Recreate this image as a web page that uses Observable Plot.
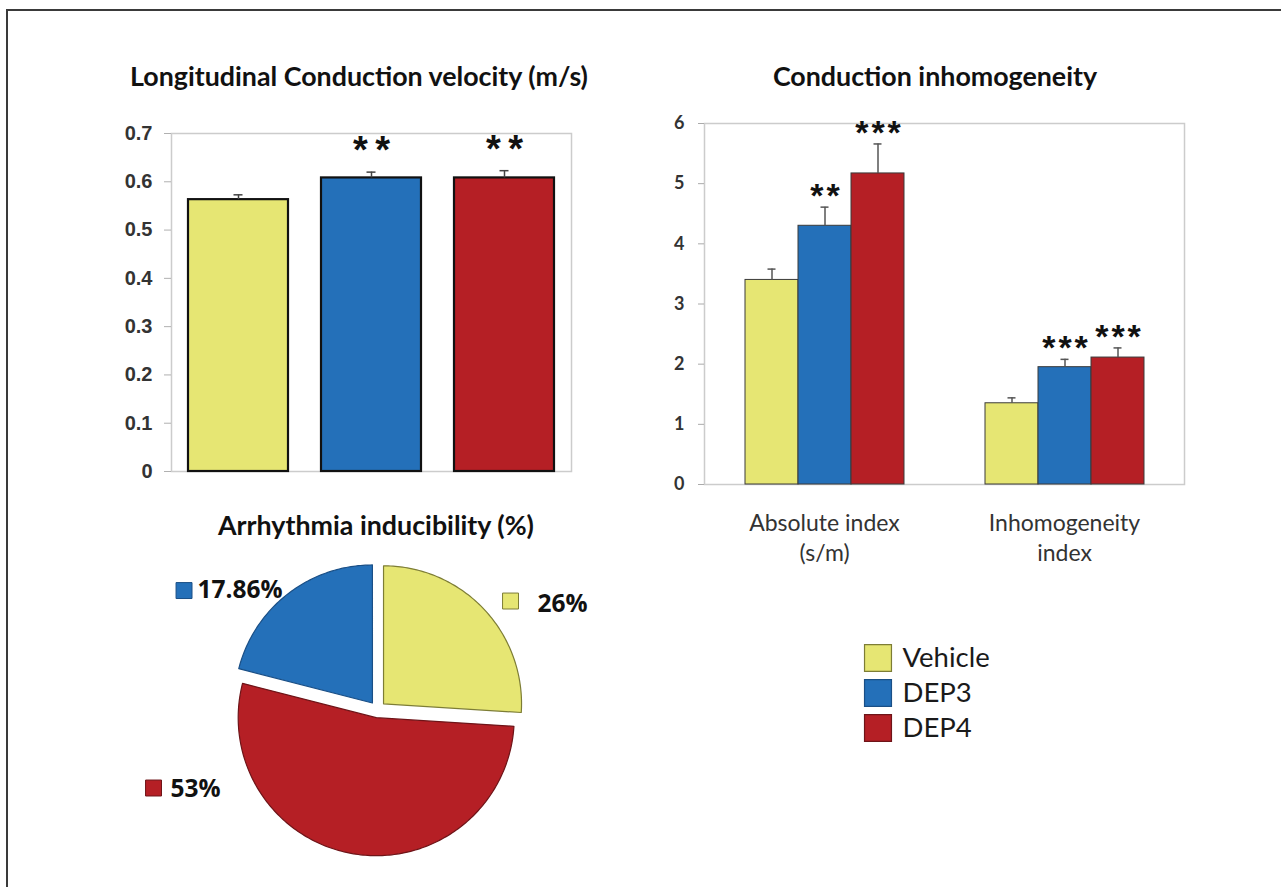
<!DOCTYPE html>
<html>
<head>
<meta charset="utf-8">
<script src="https://cdn.jsdelivr.net/npm/d3@7"></script>
<script src="https://cdn.jsdelivr.net/npm/@observablehq/plot@0.6"></script>
<style>
  html, body { margin: 0; padding: 0; background: #fff; }
  body { width: 1281px; height: 887px; overflow: hidden; position: relative; font-family: Lato, sans-serif; }
  #border { position: absolute; left: 6px; top: 9px; width: 1400px; height: 1000px; border-left: 2px solid #3a3a3a; border-top: 2px solid #3a3a3a; box-sizing: border-box; }
  .title { position: absolute; font-family: Lato, sans-serif; font-weight: 700; font-size: 26.8px; color: #111; white-space: nowrap; transform: translate(-50%, -50%); }
  .panel { position: absolute; }
  .panel svg { display: block; }
</style>
</head>
<body>
<div id="border"></div>
<div class="title" style="left:359px; top:76px;">Longitudinal Conduction velocity (m/s)</div>
<div class="title" style="left:935px; top:76px;">Conduction inhomogeneity</div>
<div class="title" style="left:376px; top:525px;">Arrhythmia inducibility (%)</div>
<div class="panel" id="cv" style="left:100px; top:110px;"></div>
<div class="panel" id="ci" style="left:620px; top:100px;"></div>
<div class="panel" id="pie" style="left:130px; top:540px;"></div>
<div class="panel" id="legend" style="left:850px; top:630px;"></div>
<script>
// ---------- data ----------
const series = ["Vehicle", "DEP3", "DEP4"];
const fillColors = ["#e6e673", "#2470b9", "#b51f25"];
const edgeColors = ["#7d7d35", "#1a4f86", "#6e1418"];

// Longitudinal conduction velocity (m/s)
const cvValues = [0.563, 0.608, 0.608];
const cvErrors = [0.010, 0.012, 0.015];
const cvStars = ["", "**", "**"];
const cvTicks = [0, 0.1, 0.2, 0.3, 0.4, 0.5, 0.6, 0.7];

// Conduction inhomogeneity
const ciGroups = ["Absolute index\n(s/m)", "Inhomogeneity\nindex"];
const ciVehicle = [3.40, 1.35];
const ciDEP3 = [4.30, 1.95];
const ciDEP4 = [5.17, 2.11];
const ciVehicleErr = [0.18, 0.09];
const ciDEP3Err = [0.31, 0.13];
const ciDEP4Err = [0.49, 0.16];
const ciVehicleStars = ["", ""];
const ciDEP3Stars = ["**", "***"];
const ciDEP4Stars = ["***", "***"];
const ciTicks = [0, 1, 2, 3, 4, 5, 6];

// Arrhythmia inducibility (%) — slices clockwise from 12 o'clock
const pieSeries = ["Vehicle", "DEP4", "DEP3"];
const pieValues = [26, 53, 21];
const pieLabels = ["26%", "53%", "17.86%"];

// ---------- helpers (layout, not data) ----------
const colorOf = s => fillColors[series.indexOf(s)];
const edgeOf = s => edgeColors[series.indexOf(s)];
const spaced = (t, sp) => t.split("").join(sp);

// ---------- chart 1: conduction velocity ----------
const cvData = series.map((s, i) => ({series: s, value: cvValues[i], err: cvErrors[i], stars: cvStars[i], color: fillColors[i]}));

const cvPlot = Plot.plot({
  width: 500, height: 380,
  marginLeft: 71, marginRight: 29, marginTop: 23, marginBottom: 19,
  style: {background: "transparent", overflow: "visible", fontFamily: "Lato"},
  x: {domain: series, paddingInner: 0.25, paddingOuter: 0.125, axis: null},
  y: {domain: [0, 0.7]},
  color: {type: "identity"},
  marks: [
    Plot.frame({stroke: "#cccccc", strokeWidth: 1.5}),
    Plot.axisY(cvTicks, {tickSize: 7, tickPadding: 12, stroke: "#b0b0b0", fill: "#333", fontSize: 20, fontWeight: "bold", fontFamily: "Liberation Sans", label: null, tickFormat: d => d === 0 ? "0" : d.toFixed(1)}),
    Plot.barY(cvData, {x: "series", y: "value", fill: "color", stroke: "#111", strokeWidth: 2.2}),
    Plot.ruleX(cvData, {x: "series", y1: "value", y2: d => d.value + d.err, stroke: "#444", strokeWidth: 1.5}),
    Plot.tickY(cvData, {x: "series", y: d => d.value + d.err, insetLeft: 45.5, insetRight: 45.5, stroke: "#444", strokeWidth: 1.5}),
    Plot.text(cvData.filter(d => d.stars), {x: "series", y: d => d.value + d.err, text: d => spaced(d.stars, "\u2009"), dy: -21, fontSize: 38, fontWeight: "bold", fontFamily: "Liberation Sans", fill: "#111"})
  ]
});
document.getElementById("cv").appendChild(cvPlot);

// ---------- chart 2: conduction inhomogeneity ----------
const ciCols = [[ciVehicle, ciVehicleErr, ciVehicleStars], [ciDEP3, ciDEP3Err, ciDEP3Stars], [ciDEP4, ciDEP4Err, ciDEP4Stars]];
const ciData = ciGroups.flatMap((g, gi) => series.map((s, si) => ({
  group: g, series: s, value: ciCols[si][0][gi], err: ciCols[si][1][gi], stars: ciCols[si][2][gi], color: fillColors[si]
})));

function ciMarks(superFrame) {
  const frameMarks = superFrame
    ? [Plot.frame({facet: "super", stroke: "#cccccc", strokeWidth: 1.5})]
    : [Plot.ruleY([0, 6], {stroke: "#cccccc", strokeWidth: 1.5})];
  return [
    ...frameMarks,
    Plot.axisY(ciTicks, {tickSize: 6, tickPadding: 14, stroke: "#aaaaaa", fill: "#333", fontSize: 18, fontWeight: "bold", fontFamily: "Lato", label: null, tickFormat: d => String(d)}),
    Plot.axisFx({anchor: "bottom", tickSize: 0, tickPadding: 25, fontSize: 23, lineHeight: 1.3, fontFamily: "Lato", fill: "#333", label: null}),
    Plot.barY(ciData, {fx: "group", x: "series", y: "value", fill: "color", stroke: "#3a3a3a", strokeWidth: 1}),
    Plot.ruleX(ciData, {fx: "group", x: "series", y1: "value", y2: d => d.value + d.err, stroke: "#555", strokeWidth: 1.5}),
    Plot.tickY(ciData, {fx: "group", x: "series", y: d => d.value + d.err, insetLeft: 22.5, insetRight: 22.5, stroke: "#555", strokeWidth: 1.5}),
    Plot.text(ciData.filter(d => d.stars), {fx: "group", x: "series", y: d => d.value + d.err, text: d => spaced(d.stars, "\u200A"), dy: -11, fontSize: 34, fontWeight: "bold", fontFamily: "Liberation Sans", fill: "#111"})
  ];
}
function ciPlot(superFrame) {
  return Plot.plot({
    width: 600, height: 480,
    marginLeft: 83, marginRight: 36, marginTop: 23, marginBottom: 96,
    style: {background: "transparent", overflow: "visible", fontFamily: "Lato"},
    fx: {domain: ciGroups, padding: 0, label: null},
    x: {domain: series, paddingInner: 0, paddingOuter: 0.755, axis: null},
    y: {domain: [0, 6]},
    color: {type: "identity"},
    marks: ciMarks(superFrame)
  });
}
let ciSvg;
try { ciSvg = ciPlot(true); } catch (e) { ciSvg = ciPlot(false); }
document.getElementById("ci").appendChild(ciSvg);

// ---------- chart 3: pie ----------
const pieData = pieSeries.map((s, i) => ({series: s, value: pieValues[i], label: pieLabels[i], color: colorOf(s), edge: edgeOf(s)}));
const arcs = d3.pie().sort(null).value(d => d.value)(pieData);
const explode = 0.06;
const piePts = arcs.flatMap(a => {
  const mid = (a.startAngle + a.endAngle) / 2;
  const ox = explode * Math.sin(mid), oy = explode * Math.cos(mid);
  const n = Math.max(2, Math.ceil((a.endAngle - a.startAngle) / (Math.PI / 180)));
  const pts = [{x: ox, y: oy}];
  for (let i = 0; i <= n; i++) {
    const t = a.startAngle + (a.endAngle - a.startAngle) * i / n;
    pts.push({x: ox + Math.sin(t), y: oy + Math.cos(t)});
  }
  pts.push({x: ox, y: oy});
  return pts.map(p => ({...p, series: a.data.series, color: a.data.color, edge: a.data.edge}));
});
// label placement (layout, in pie-radius units)
const labelLayout = {
  Vehicle: {mx: 0.964, my: 0.786, tx: 1.159, ty: 0.761},
  DEP4:    {mx: -1.623, my: -0.569, tx: -1.50, ty: -0.58},
  DEP3:    {mx: -1.402, my: 0.862, tx: -1.304, ty: 0.862}
};
const pieLab = pieData.map(d => ({...d, ...labelLayout[d.series]}));
const PW = 420, PH = 340, CX = 247, CY = 169, R = 138;
const piePlot = Plot.plot({
  width: PW, height: PH, margin: 0,
  style: {background: "transparent", overflow: "visible", fontFamily: "Lato"},
  x: {domain: [-CX / R, (PW - CX) / R], axis: null},
  y: {domain: [-(PH - CY) / R, CY / R], axis: null},
  color: {type: "identity"},
  marks: [
    Plot.line(piePts, {x: "x", y: "y", z: "series", fill: "color", stroke: "edge", strokeWidth: 1.2, curve: "linear"}),
    Plot.dot(pieLab, {x: "mx", y: "my", symbol: "square", r: 9, fill: "color", stroke: "edge", strokeWidth: 1}),
    Plot.text(pieLab, {x: "tx", y: "ty", text: "label", textAnchor: "start", fontSize: 24.5, fontWeight: "bold", fontFamily: "Open Sans", fill: "#111"})
  ]
});
document.getElementById("pie").appendChild(piePlot);

// ---------- legend ----------
const legendPlot = Plot.plot({
  width: 200, height: 125,
  marginLeft: 27.5, marginRight: 0, marginTop: 9, marginBottom: 9,
  style: {background: "transparent", overflow: "visible", fontFamily: "Lato"},
  y: {type: "band", domain: series, padding: 0, axis: null},
  color: {type: "identity"},
  marks: [
    Plot.dot(series, {y: d => d, frameAnchor: "left", symbol: "square", r: 15.2, fill: colorOf, stroke: edgeOf, strokeWidth: 1.2}),
    Plot.text(series, {y: d => d, frameAnchor: "left", dx: 24.5, text: d => d, textAnchor: "start", fontSize: 27.5, fontFamily: "Lato", fill: "#1a1a1a"})
  ]
});
document.getElementById("legend").appendChild(legendPlot);
</script>
</body>
</html>
